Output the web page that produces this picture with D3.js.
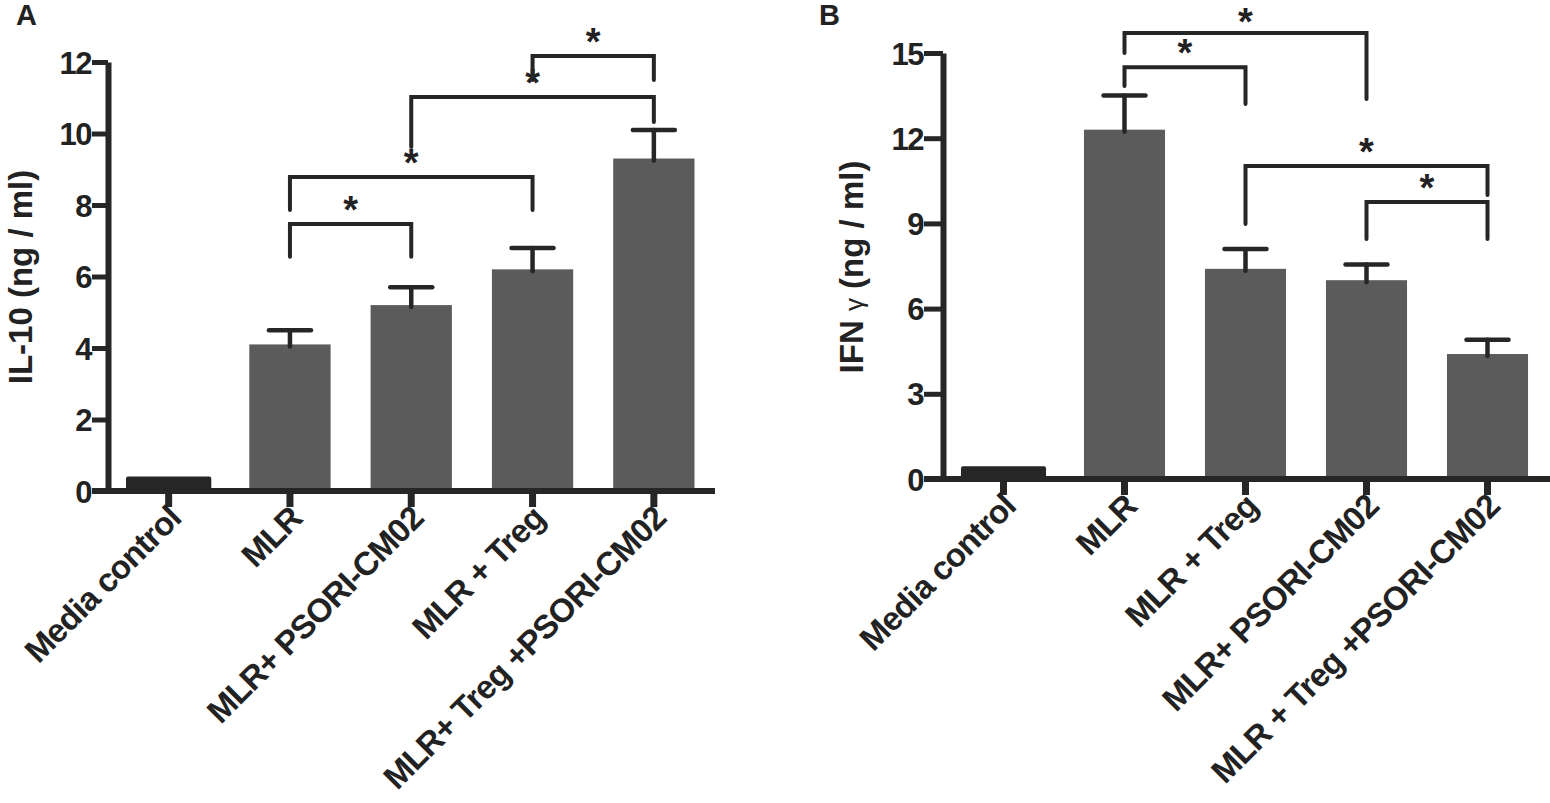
<!DOCTYPE html>
<html>
<head>
<meta charset="utf-8">
<script src="https://cdn.jsdelivr.net/npm/d3@7"></script>
<style>
body { margin: 0; background: #fff; }
svg text { font-family: "Liberation Sans", Arial, sans-serif; font-weight: bold; fill: #222; }
</style>
</head>
<body>
<svg id="chart" width="1550" height="803"></svg>
<script>
// Panel A - IL-10
var categoriesA = ["Media control", "MLR", "MLR+ PSORI-CM02", "MLR + Treg", "MLR+ Treg +PSORI-CM02"];
var valuesA = [0.35, 4.1, 5.2, 6.2, 9.3];
var errorsA = [0, 0.4, 0.5, 0.6, 0.8];
var ticksA = [0, 2, 4, 6, 8, 10, 12];
// significance brackets: [from, to, line level, left leg end, right leg end]
var bracketsA = [
    [1, 2, 7.47, 6.55, 6.55],
    [1, 3, 8.78, 7.86, 7.86],
    [2, 4, 11.02, 9.62, 10.32],
    [3, 4, 12.17, 11.5, 11.5]
];

// Panel B - IFN gamma
var categoriesB = ["Media control", "MLR", "MLR + Treg", "MLR+ PSORI-CM02", "MLR + Treg +PSORI-CM02"];
var valuesB = [0.38, 12.3, 7.4, 7.0, 4.4];
var errorsB = [0, 1.2, 0.7, 0.55, 0.5];
var ticksB = [0, 3, 6, 9, 12, 15];
var bracketsB = [
    [1, 2, 14.5, 13.84, 13.2],
    [1, 3, 15.7, 15.0, 13.38],
    [2, 4, 11.02, 8.98, 10.0],
    [3, 4, 9.75, 8.45, 8.45]
];

var ink = "#262626";
var barColor = "#5a5b5a";
var starSize = 38;
var svg = d3.select("#chart");

function drawPanel(cfg) {
    var g = svg.append("g");
    var x = d3.scaleBand()
        .domain(d3.range(cfg.categories.length))
        .range([cfg.left, cfg.right])
        .paddingInner(0.33)
        .paddingOuter(0.165);
    var y = d3.scaleLinear()
        .domain([0, d3.max(cfg.ticks)])
        .range([cfg.bottom, cfg.top]);
    var mid = function (i) { return x(i) + x.bandwidth() / 2; };

    var rows = cfg.values.map(function (v, i) {
        return {i: i, v: v, e: cfg.errors[i]};
    });

    //bars, the near zero control bar shows only its dark border
    g.selectAll(".bar")
        .data(rows)
        .enter().append("rect")
        .attr("class", "bar")
        .attr("x", function (d) { return x(d.i); })
        .attr("width", x.bandwidth())
        .attr("y", function (d) { return y(d.v); })
        .attr("height", function (d) { return y(0) - y(d.v); })
        .style("fill", function (d) { return d.i == 0 ? ink : barColor; })
        .style("stroke", function (d) { return d.i == 0 ? ink : "none"; })
        .style("stroke-width", 4)
        .style("stroke-linejoin", "round");

    //error bars (upper only)
    var err = g.selectAll(".err")
        .data(rows.filter(function (d) { return d.e > 0; }))
        .enter().append("g")
        .attr("class", "err");
    err.append("line")
        .attr("x1", function (d) { return mid(d.i); })
        .attr("x2", function (d) { return mid(d.i); })
        .attr("y1", function (d) { return y(d.v) + 2; })
        .attr("y2", function (d) { return y(d.v + d.e); });
    err.append("line")
        .attr("x1", function (d) { return mid(d.i) - 21; })
        .attr("x2", function (d) { return mid(d.i) + 21; })
        .attr("y1", function (d) { return y(d.v + d.e); })
        .attr("y2", function (d) { return y(d.v + d.e); });
    g.selectAll(".err line")
        .style("stroke", ink)
        .style("stroke-width", 4.5)
        .style("stroke-linecap", "round");

    //y axis
    var yAxis = g.append("g")
        .attr("transform", "translate(" + cfg.left + ",0)")
        .call(d3.axisLeft(y).tickValues(cfg.ticks).tickSize(cfg.tickLen).tickSizeOuter(0).tickPadding(1));
    yAxis.select(".domain").style("stroke", ink).style("stroke-width", 6);
    yAxis.selectAll(".tick line").style("stroke", ink).style("stroke-width", 5);
    yAxis.selectAll(".tick text")
        .style("font-size", "31px")
        .style("letter-spacing", "-1.5px")
        .attr("dy", "0.36em");

    //x axis line plus category ticks
    g.append("line")
        .attr("x1", cfg.left - cfg.tickLen)
        .attr("x2", cfg.axisEnd)
        .attr("y1", y(0))
        .attr("y2", y(0))
        .style("stroke", ink)
        .style("stroke-width", 6);
    var xAxis = g.append("g")
        .attr("transform", "translate(0," + y(0) + ")")
        .call(d3.axisBottom(x).tickSize(16).tickSizeOuter(0).tickFormat(function (i) {
            return cfg.categories[i];
        }));
    xAxis.select(".domain").remove();
    xAxis.selectAll(".tick line").style("stroke", ink).style("stroke-width", 7);
    xAxis.selectAll(".tick text")
        .attr("x", 0)
        .attr("y", 0)
        .attr("dy", "0.35em")
        .attr("transform", "translate(6,21) rotate(-45)")
        .style("text-anchor", "end")
        .style("font-size", "33px")
        .style("letter-spacing", "-0.8px");

    //significance brackets
    var br = g.selectAll(".bracket")
        .data(cfg.brackets)
        .enter().append("g")
        .attr("class", "bracket");
    br.append("path")
        .attr("d", function (d) {
            return "M" + mid(d[0]) + "," + y(d[3]) + "V" + y(d[2]) +
                "H" + mid(d[1]) + "V" + y(d[4]);
        })
        .style("fill", "none")
        .style("stroke", ink)
        .style("stroke-width", 4)
        .style("stroke-linecap", "round");
    //keep the star's text box inside the page at the very top
    br.append("text")
        .attr("x", function (d) { return (mid(d[0]) + mid(d[1])) / 2; })
        .attr("y", function (d) { return Math.max(y(d[2]) - 1, starSize * 0.92); })
        .style("text-anchor", "middle")
        .style("font-size", starSize + "px")
        .text("*");

    //y axis title
    var title = g.append("text")
        .attr("transform", "translate(" + cfg.titleX + "," + cfg.titleY + ") rotate(-90)")
        .attr("dy", "0.35em")
        .style("text-anchor", "middle")
        .style("font-size", "33px");
    cfg.title.forEach(function (t) {
        title.append("tspan")
            .style("font-weight", t[1] ? "normal" : "bold")
            .style("font-size", t[1] ? "26px" : null)
            .text(t[0]);
    });

    //panel letter
    g.append("text")
        .attr("x", cfg.letterX)
        .attr("y", 25)
        .style("font-size", "29px")
        .text(cfg.letter);
}

drawPanel({
    categories: categoriesA, values: valuesA, errors: errorsA,
    ticks: ticksA, brackets: bracketsA,
    left: 108, right: 714.5, axisEnd: 715, top: 62, bottom: 491, tickLen: 16,
    title: [["IL-10 (ng / ml)", false]], titleX: 20, titleY: 277,
    letter: "A", letterX: 16
});

drawPanel({
    categories: categoriesB, values: valuesB, errors: errorsB,
    ticks: ticksB, brackets: bracketsB,
    left: 943, right: 1548, axisEnd: 1550, top: 53, bottom: 479, tickLen: 19,
    title: [["IFN ", false], ["\u03b3", true], [" (ng / ml)", false]], titleX: 851, titleY: 267,
    letter: "B", letterX: 819
});
</script>
</body>
</html>
